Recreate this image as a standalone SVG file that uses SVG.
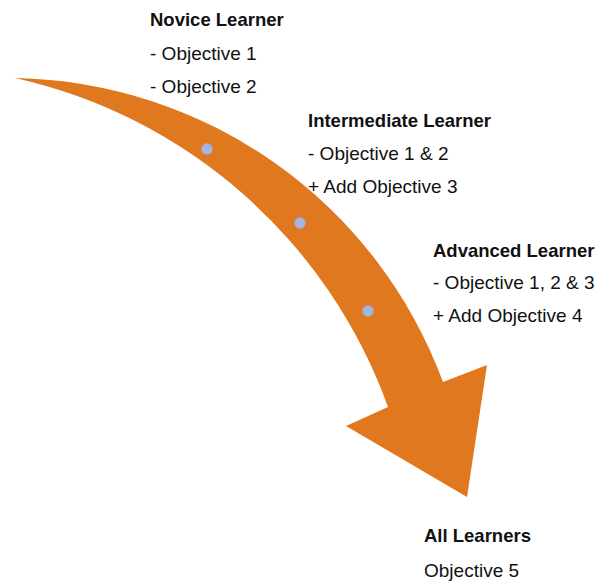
<svg xmlns="http://www.w3.org/2000/svg" width="602" height="581" viewBox="0 0 602 581">
  <style>
    .t { font-family: "Liberation Sans", Arial, sans-serif; font-size: 19px; fill: #111; }
    .h { font-weight: bold; font-size: 18.5px; }
    .dot { fill: #A9B3E0; stroke: #9aa4d4; stroke-width: 0.6; }
  </style>
  <rect width="602" height="581" fill="#ffffff"/>
  <g id="connectors">
    <path id="arrow" d="M 15 78 A 465 465 0 0 1 443 382 L 487 365 L 467 497 L 346 426 L 388 407 A 516 516 0 0 0 15 78 Z" fill="#E0781F"/>
  </g>
  <g id="dots">
    <circle class="dot" cx="207" cy="149" r="5.5"/>
    <circle class="dot" cx="300" cy="223" r="5.5"/>
    <circle class="dot" cx="368" cy="311" r="5.5"/>
  </g>
  <g id="novice">
    <text class="t h" x="150" y="26">Novice Learner</text>
    <text class="t" x="150" y="60">- Objective 1</text>
    <text class="t" x="150" y="93">- Objective 2</text>
  </g>
  <g id="intermediate">
    <text class="t h" x="308" y="127">Intermediate Learner</text>
    <text class="t" x="308" y="160">- Objective 1 &amp; 2</text>
    <text class="t" x="308" y="193">+ Add Objective 3</text>
  </g>
  <g id="advanced">
    <text class="t h" x="433" y="257">Advanced Learner</text>
    <text class="t" x="433" y="289">- Objective 1, 2 &amp; 3</text>
    <text class="t" x="433" y="322">+ Add Objective 4</text>
  </g>
  <g id="all">
    <text class="t h" x="424" y="542">All Learners</text>
    <text class="t" x="424" y="577">Objective 5</text>
  </g>
</svg>
